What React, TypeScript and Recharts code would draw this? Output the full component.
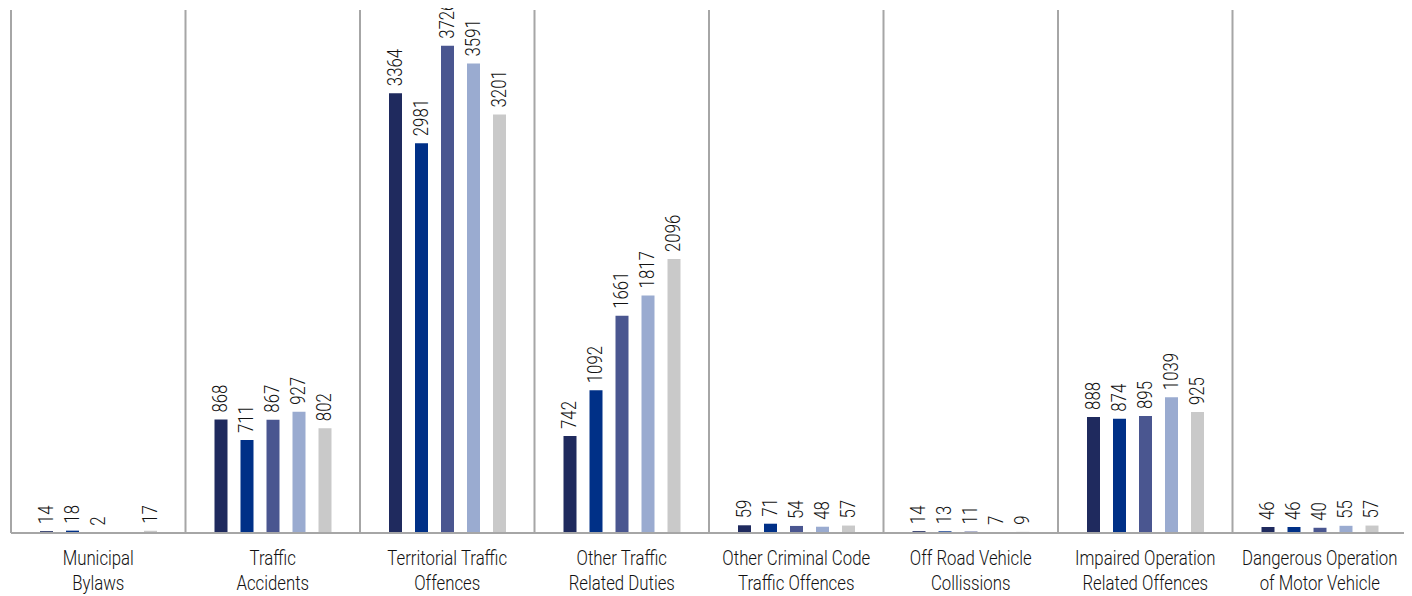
import { BarChart, Bar, XAxis, YAxis, CartesianGrid, LabelList } from 'recharts';

const categories = [
  ['Municipal', 'Bylaws'],
  ['Traffic', 'Accidents'],
  ['Territorial Traffic', 'Offences'],
  ['Other Traffic', 'Related Duties'],
  ['Other Criminal Code', 'Traffic Offences'],
  ['Off Road Vehicle', 'Collissions'],
  ['Impaired Operation', 'Related Offences'],
  ['Dangerous Operation', 'of Motor Vehicle'],
];

const seriesNames = ['s1', 's2', 's3', 's4', 's5'];
const seriesColors = ['#1f2a5e', '#003087', '#4a5690', '#9aabd0', '#c9c9c9'];

const s1 = [14, 868, 3364, 742, 59, 14, 888, 46];
const s2 = [18, 711, 2981, 1092, 71, 13, 874, 46];
const s3 = [2, 867, 3726, 1661, 54, 11, 895, 40];
const s4 = [0, 927, 3591, 1817, 48, 7, 1039, 55];
const s5 = [17, 802, 3201, 2096, 57, 9, 925, 57];
const seriesValues = [s1, s2, s3, s4, s5];

const data = categories.map((c, i) => {
  const row: any = { name: c.join('\n') };
  seriesNames.forEach((s, k) => {
    row[s] = seriesValues[k][i];
  });
  return row;
});

const FONT = 'Roboto, sans-serif';
const NARROW = 0.84;

const ValueLabel = (props: any) => {
  const { x, y, width, value } = props;
  const cx = x + width / 2;
  const cy = y - 7;
  return (
    <text
      x={0}
      y={0}
      transform={`translate(${cx} ${cy}) rotate(-90) scale(${NARROW} 1)`}
      textAnchor="start"
      dominantBaseline="central"
      fontSize={20}
      fontWeight={300}
      fontFamily={FONT}
      fill="#111"
    >
      {value}
    </text>
  );
};

const CategoryTick = (props: any) => {
  const { x, y, payload } = props;
  const lines = String(payload.value).split('\n');
  return (
    <g>
      {lines.map((l, i) => (
        <text
          key={i}
          x={0}
          y={0}
          transform={`translate(${x} ${y + 32 + i * 25}) scale(${NARROW} 1)`}
          textAnchor="middle"
          fontSize={20}
          fontWeight={300}
          fontFamily={FONT}
          fill="#111"
        >
          {l}
        </text>
      ))}
    </g>
  );
};

export default function App() {
  return (
    <BarChart
      width={1404}
      height={588}
      data={data}
      margin={{ top: 2, right: 5, bottom: 0, left: 3 }}
      barSize={13}
      barGap={13}
    >
      <CartesianGrid
        horizontal={false}
        stroke="#a6a6a6"
        strokeWidth={2}
        verticalCoordinatesGenerator={({ offset }: any) =>
          categories.map((_, i) => offset.left + (i * offset.width) / categories.length)
        }
      />
      <XAxis
        dataKey="name"
        interval={0}
        height={63}
        tickLine={false}
        tickSize={0}
        tickMargin={0}
        axisLine={{ stroke: '#a6a6a6', strokeWidth: 2 }}
        tick={<CategoryTick />}
      />
      <YAxis hide domain={[0, 4000]} />
      {seriesNames.map((s, k) => (
        <Bar key={s} dataKey={s} fill={seriesColors[k]} isAnimationActive={false}>
          <LabelList dataKey={s} content={<ValueLabel />} />
        </Bar>
      ))}
    </BarChart>
  );
}
